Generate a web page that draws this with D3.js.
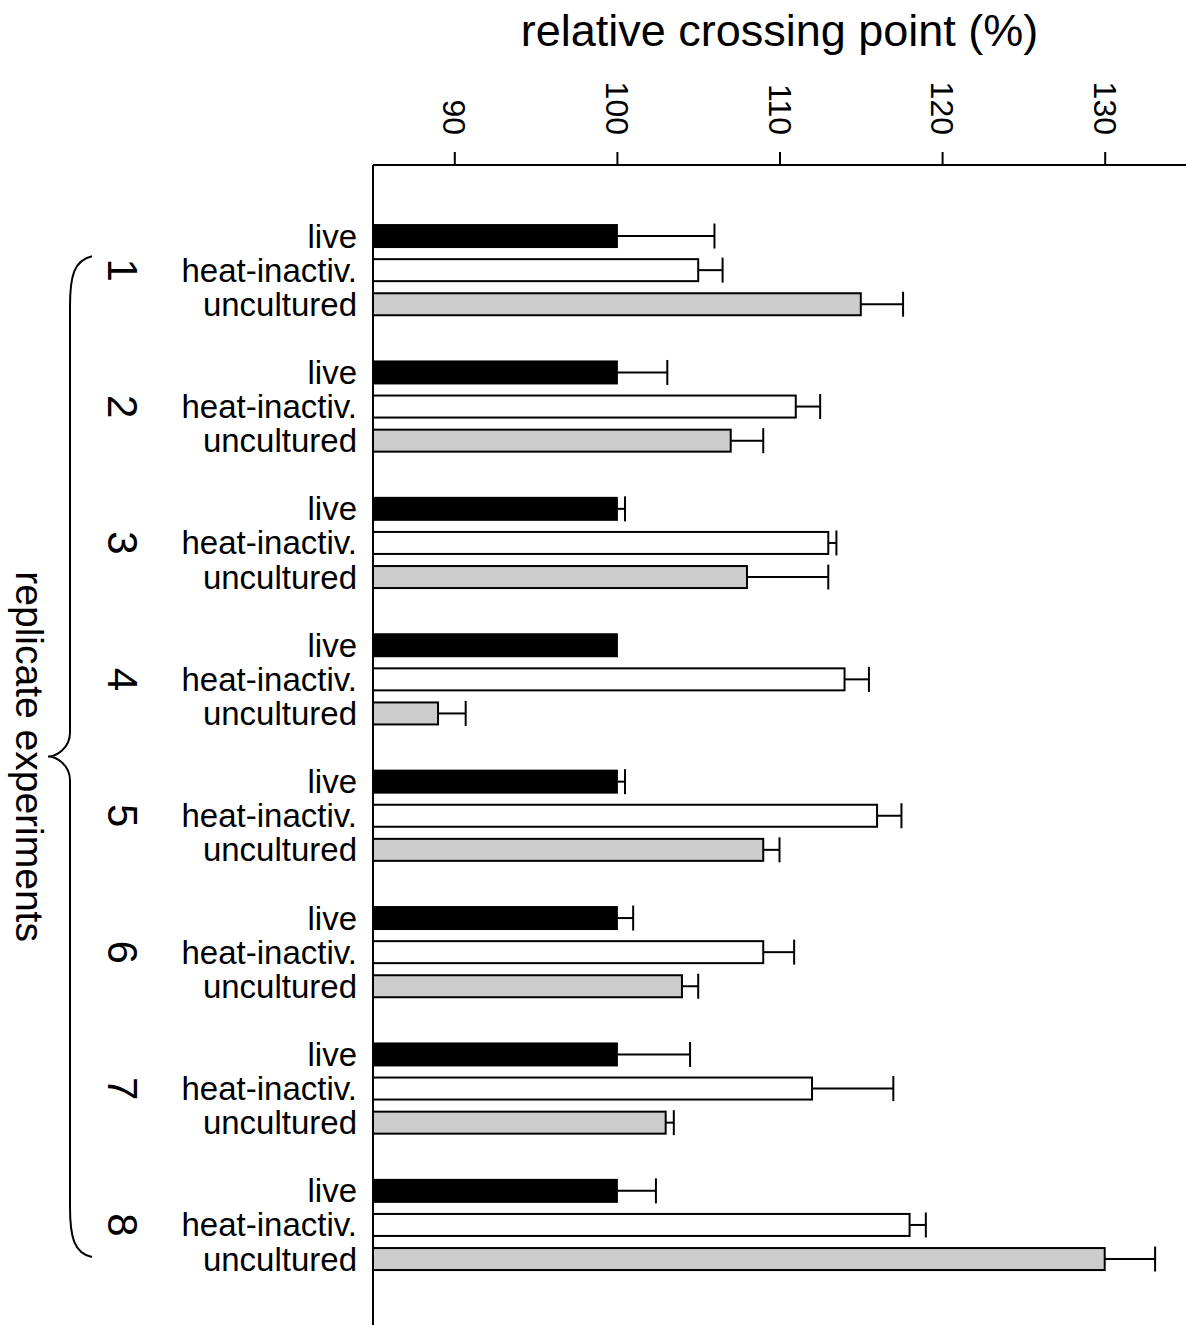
<!DOCTYPE html>
<html>
<head>
    <title>Relative crossing point</title>
    <style>
        body { margin: 0; background: #fff; }
        svg { display: block; font-family: "Liberation Sans", Arial, sans-serif; }
    </style>
</head>
<body>
    <svg id="chart" width="1186" height="1325"></svg>

    <script src="https://d3js.org/d3.v7.min.js"></script>
    <script>
        // data
        const experiments = ["1", "2", "3", "4", "5", "6", "7", "8"];
        const conditions = ["live", "heat-inactiv.", "uncultured"];
        const liveValues = [100, 100, 100, 100, 100, 100, 100, 100];
        const liveErrors = [6.0, 3.1, 0.5, 0, 0.5, 1.0, 4.5, 2.4];
        const heatValues = [105, 111, 113, 114, 116, 109, 112, 118];
        const heatErrors = [1.5, 1.5, 0.5, 1.5, 1.5, 1.9, 5.0, 1.0];
        const uncValues = [115, 107, 108, 89, 109, 104, 103, 130];
        const uncErrors = [2.6, 2.0, 5.0, 1.7, 1.0, 1.0, 0.5, 3.1];
        const tickValues = [90, 100, 110, 120, 130];

        const fills = { "live": "#000", "heat-inactiv.": "#fff", "uncultured": "#cccccc" };
        const seriesValues = [liveValues, heatValues, uncValues];
        const seriesErrors = [liveErrors, heatErrors, uncErrors];

        const rows = [];
        experiments.forEach((e, i) => {
            conditions.forEach((c, j) => {
                rows.push({ exp: e, cond: c, value: seriesValues[j][i], err: seriesErrors[j][i] });
            });
        });

        const svg = d3.select("#chart");
        const axisY = 165, left = 373, right = 1186;
        const groupStep = 136.4;

        const x = d3.scaleLinear().domain([85, 135]).range([left, right]);

        // each group holds 3 bars plus an empty slot
        const yGroup = d3.scaleBand()
            .domain(experiments)
            .range([219, 219 + groupStep * experiments.length]);

        const yInner = d3.scaleBand()
            .domain(conditions)
            .range([0, groupStep * 3 / 4])
            .paddingInner(0.355)
            .paddingOuter(0.1775);

        const barY = d => yGroup(d.exp) + yInner(d.cond);
        const barMid = d => barY(d) + yInner.bandwidth() / 2;

        // bars
        svg.append("g")
            .selectAll("rect")
            .data(rows)
            .join("rect")
            .attr("x", x(85))
            .attr("y", barY)
            .attr("width", d => x(d.value) - x(85))
            .attr("height", yInner.bandwidth())
            .attr("fill", d => fills[d.cond])
            .attr("stroke", "#000")
            .attr("stroke-width", 2);

        // error bars (upper side only)
        const errRows = rows.filter(d => d.err > 0);
        const eg = svg.append("g").attr("stroke", "#000").attr("stroke-width", 2);
        eg.selectAll("line.stem")
            .data(errRows)
            .join("line")
            .attr("class", "stem")
            .attr("x1", d => x(d.value))
            .attr("x2", d => x(d.value + d.err))
            .attr("y1", barMid)
            .attr("y2", barMid);
        eg.selectAll("line.cap")
            .data(errRows)
            .join("line")
            .attr("class", "cap")
            .attr("x1", d => x(d.value + d.err))
            .attr("x2", d => x(d.value + d.err))
            .attr("y1", d => barMid(d) - 12.5)
            .attr("y2", d => barMid(d) + 12.5);

        // axes
        const xAxis = svg.append("g")
            .attr("transform", `translate(0,${axisY})`)
            .call(d3.axisTop(x).tickValues(tickValues).tickSize(13).tickFormat(""));
        xAxis.select(".domain").attr("d", `M${left},0H${right}`).attr("stroke-width", 2);
        xAxis.selectAll(".tick line").attr("stroke-width", 2);

        svg.append("line")
            .attr("x1", left).attr("x2", left)
            .attr("y1", axisY).attr("y2", 1325)
            .attr("stroke", "#000").attr("stroke-width", 2);

        // rotated tick labels
        svg.append("g")
            .selectAll("text")
            .data(tickValues)
            .join("text")
            .attr("transform", d => `translate(${x(d)},135) rotate(90)`)
            .attr("text-anchor", "end")
            .attr("dominant-baseline", "central")
            .attr("font-size", 32)
            .text(d => d);

        // title
        svg.append("text")
            .attr("x", (left + right) / 2)
            .attr("y", 46)
            .attr("text-anchor", "middle")
            .attr("font-size", 45)
            .text("relative crossing point (%)");

        // condition labels
        svg.append("g")
            .selectAll("text")
            .data(rows)
            .join("text")
            .attr("x", 357)
            .attr("y", barMid)
            .attr("text-anchor", "end")
            .attr("dominant-baseline", "central")
            .attr("font-size", 33)
            .text(d => d.cond);

        // experiment numbers
        svg.append("g")
            .selectAll("text")
            .data(experiments)
            .join("text")
            .attr("transform", d => `translate(122,${yGroup(d) + yInner("heat-inactiv.") + yInner.bandwidth() / 2}) rotate(90)`)
            .attr("text-anchor", "middle")
            .attr("dominant-baseline", "central")
            .attr("font-size", 42)
            .text(d => d);

        // curly brace spanning the experiments
        const bTop = yGroup("1") + yInner("heat-inactiv.") - 3;
        const bBot = yGroup("8") + yInner("uncultured") + 9;
        const bMid = (bTop + bBot) / 2;
        const bx = 70, tipX = 48, endX = 92;
        svg.append("path")
            .attr("d", `M${endX},${bTop} C${bx + 4},${bTop + 4} ${bx},${bTop + 20} ${bx},${bTop + 50}
                        L${bx},${bMid - 24} C${bx},${bMid - 8} ${tipX + 8},${bMid} ${tipX},${bMid}
                        C${tipX + 8},${bMid} ${bx},${bMid + 8} ${bx},${bMid + 24}
                        L${bx},${bBot - 50} C${bx},${bBot - 20} ${bx + 4},${bBot - 4} ${endX},${bBot}`)
            .attr("fill", "none")
            .attr("stroke", "#000")
            .attr("stroke-width", 2);

        svg.append("text")
            .attr("transform", `translate(29,${bMid}) rotate(90)`)
            .attr("text-anchor", "middle")
            .attr("dominant-baseline", "central")
            .attr("font-size", 39)
            .text("replicate experiments");
    </script>
</body>
</html>
